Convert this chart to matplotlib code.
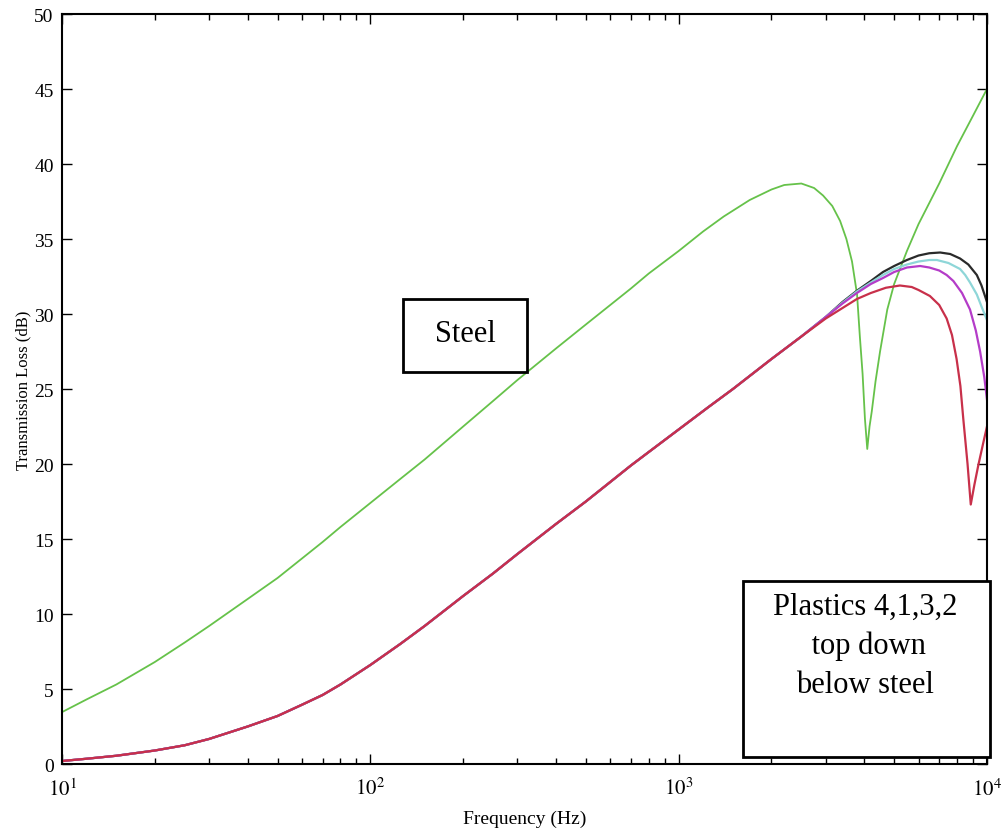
import matplotlib
matplotlib.use('Agg')
import matplotlib.pyplot as plt
from matplotlib.ticker import LogLocator, NullFormatter

plt.rcParams['font.family'] = ['Liberation Serif', 'DejaVu Serif']
plt.rcParams['mathtext.fontset'] = 'stix'

# steel curve (green)
f_steel = [10, 12, 15, 20, 25, 30, 40, 50, 60, 70, 80, 100, 125, 150, 200, 250, 300, 400,
           500, 600, 700, 800, 1000, 1200, 1400, 1700, 2000, 2200, 2500, 2750, 2940, 3150,
           3340, 3500, 3650, 3790, 3870, 3950, 4020, 4090, 4160, 4230, 4350, 4500, 4750,
           5000, 5500, 6000, 6500, 7000, 8000, 9000, 10000]
tl_steel = [3.46, 4.3, 5.3, 6.8, 8.1, 9.2, 11.0, 12.4, 13.7, 14.8, 15.8, 17.4, 19.0, 20.3,
            22.5, 24.2, 25.6, 27.7, 29.3, 30.6, 31.7, 32.7, 34.2, 35.5, 36.5, 37.6, 38.3,
            38.6, 38.7, 38.4, 37.9, 37.2, 36.2, 35.0, 33.5, 31.3, 28.5, 26.0, 23.0, 21.0,
            22.5, 23.5, 25.5, 27.5, 30.3, 32.0, 34.2, 36.0, 37.4, 38.7, 41.2, 43.2, 45.0]

# plastics share the low-frequency part
f_low = [10, 12, 15, 20, 25, 30, 40, 50, 60, 70, 80, 100, 125, 150, 200, 250, 300, 400,
         500, 600, 700, 800, 1000, 1250, 1500, 2000, 2500, 3000]
tl_low = [0.2, 0.35, 0.55, 0.9, 1.25, 1.67, 2.5, 3.2, 3.95, 4.6, 5.3, 6.6, 8.0, 9.2, 11.2,
          12.7, 14.0, 16.0, 17.5, 18.8, 19.9, 20.8, 22.3, 23.8, 25.0, 27.0, 28.5, 29.8]

# plastic 4 (black)
f_p4 = [3400, 3785, 4200, 4600, 5000, 5500, 6000, 6500, 7050, 7600, 8180, 8700, 9270,
        9600, 10000]
tl_p4 = [30.8, 31.55, 32.2, 32.8, 33.2, 33.6, 33.9, 34.05, 34.1, 34.0, 33.7, 33.3, 32.6,
         31.9, 30.8]

# plastic 1 (cyan)
f_p1 = [3400, 3785, 4200, 4600, 5000, 5500, 6000, 6500, 6880, 7500, 8180, 8500, 8810,
        9270, 9600, 10000]
tl_p1 = [30.75, 31.5, 32.1, 32.6, 33.0, 33.3, 33.5, 33.6, 33.6, 33.4, 33.0, 32.6, 32.1,
         31.3, 30.5, 29.6]

# plastic 3 (magenta)
f_p3 = [3400, 3785, 4200, 4600, 5000, 5500, 6070, 6500, 7000, 7400, 7780, 8300, 8810,
        9200, 9500, 9800, 10000]
tl_p3 = [30.7, 31.4, 32.0, 32.4, 32.8, 33.1, 33.2, 33.1, 32.9, 32.6, 32.2, 31.4, 30.3,
         28.9, 27.5, 25.8, 24.3]

# plastic 2 (red)
f_p2 = [3000, 3400, 3785, 4200, 4700, 5220, 5700, 6000, 6530, 7000, 7400, 7700, 7970,
        8200, 8380, 8650, 8860, 9100, 9370, 9700, 10000]
tl_p2 = [29.7, 30.4, 31.0, 31.4, 31.75, 31.9, 31.8, 31.6, 31.2, 30.6, 29.7, 28.6, 27.0,
         25.2, 23.0, 20.0, 17.3, 18.6, 19.9, 21.3, 22.5]

xticks = [10, 100, 1000, 10000]
xticklabels = ['$10^1$', '$10^2$', '$10^3$', '$10^4$']
yticks = list(range(0, 51, 5))

fig = plt.figure(figsize=(10.02, 8.29), dpi=100)
ax = fig.add_axes([0.0619, 0.0772, 0.9231, 0.9047])

ax.plot(f_steel, tl_steel, color='#66c24a', lw=1.3)
ax.plot(f_low + f_p4, tl_low + tl_p4, color='#2a2a2a', lw=1.6)
ax.plot(f_low + f_p1, tl_low + tl_p1, color='#8ed6d8', lw=1.6)
ax.plot(f_low + f_p3, tl_low + tl_p3, color='#b43cc8', lw=1.6)
ax.plot(f_low[:-1] + f_p2, tl_low[:-1] + tl_p2, color='#c8304a', lw=1.6)

ax.set_xscale('log')
ax.set_xlim(10, 10000)
ax.set_ylim(0, 50)
ax.set_xticks(xticks)
ax.set_xticklabels(xticklabels, fontsize=15)
ax.xaxis.set_minor_locator(LogLocator(base=10, subs=range(2, 10)))
ax.xaxis.set_minor_formatter(NullFormatter())
ax.set_yticks(yticks)
ax.set_yticklabels([str(v) for v in yticks], fontsize=14)
ax.tick_params(which='both', direction='in', top=True, right=True, width=1.0)
ax.tick_params(which='major', length=7)
ax.tick_params(which='minor', length=4)
ax.tick_params(axis='x', pad=10)
ax.tick_params(axis='y', pad=6)
for s in ax.spines.values():
    s.set_linewidth(1.5)

ax.set_xlabel('Frequency (Hz)', fontsize=14, labelpad=7)
ax.set_ylabel('Transmission Loss (dB)', fontsize=12, labelpad=2)

ax.add_patch(plt.Rectangle((0.369, 0.523), 0.134, 0.097, transform=ax.transAxes,
                           facecolor='white', edgecolor='black', lw=2, zorder=5))
ax.text(0.436, 0.574, 'Steel', transform=ax.transAxes, ha='center', va='center',
        fontsize=22, zorder=6)
ax.add_patch(plt.Rectangle((0.736, 0.009), 0.267, 0.235, transform=ax.transAxes,
                           facecolor='white', edgecolor='black', lw=2, clip_on=False,
                           zorder=5))
ax.text(0.868, 0.158, 'Plastics 4,1,3,2\n top down\nbelow steel', transform=ax.transAxes,
        ha='center', va='center', fontsize=22, linespacing=1.45, zorder=6)

fig.savefig('out.png', dpi=100)
